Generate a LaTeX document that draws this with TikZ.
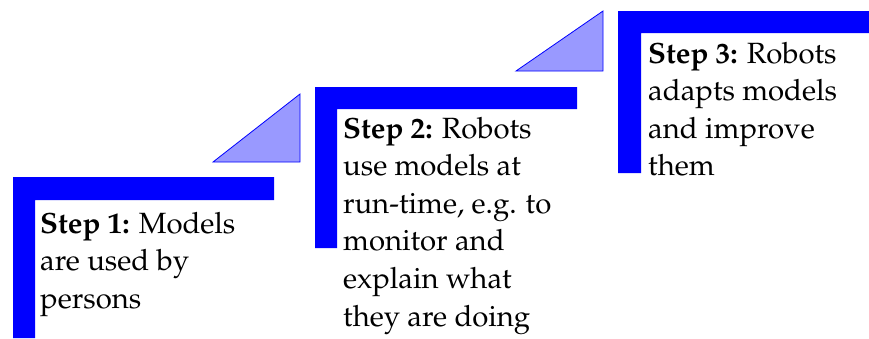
\documentclass[tikz,border=0pt]{standalone}
\usepackage[T1]{fontenc}
\usepackage{mathpazo}
\begin{document}
\begin{tikzpicture}[x=1pt,y=-1pt,
  stair/.style={fill=blue,draw=none},
  ramp/.style={fill=blue!40,draw=blue,line width=0.8pt,line join=miter},
  steptext/.style={anchor=base west,align=left,inner sep=0pt,
    font=\fontsize{29.3}{37.6}\selectfont}]
\useasboundingbox (0,0) rectangle (869,338);
% step 1 (text anchored at the baseline of its last line)
\fill[stair] (13,177) -- (274,177) -- (274,200) -- (35,200) -- (35,338) -- (13,338) -- cycle;
\node[steptext] (s1) at (40,308.2) {\textbf{Step 1:} Models\\are used by\\persons};
% ramp 1
\draw[ramp] (213,162) coordinate (r1a) -- (300,94) coordinate (r1b) -- (300,162) coordinate (r1c) -- cycle;
% step 2
\fill[stair] (315,87) -- (577,87) -- (577,109) -- (337,109) -- (337,248) -- (315,248) -- cycle;
\node[steptext] (s2) at (343,326) {\textbf{Step 2:} Robots\\use models at\\run-time, e.g. to\\monitor and\\explain what\\they are doing};
% ramp 2
\draw[ramp] (516,71) coordinate (r2a) -- (603,11) coordinate (r2b) -- (603,71) coordinate (r2c) -- cycle;
% step 3
\fill[stair] (618,11) -- (869,11) -- (869,33) -- (641,33) -- (641,173) -- (618,173) -- cycle;
\node[steptext] (s3) at (648,175.8) {\textbf{Step 3:} Robots\\adapts models\\and improve\\them};
\end{tikzpicture}
\end{document}
